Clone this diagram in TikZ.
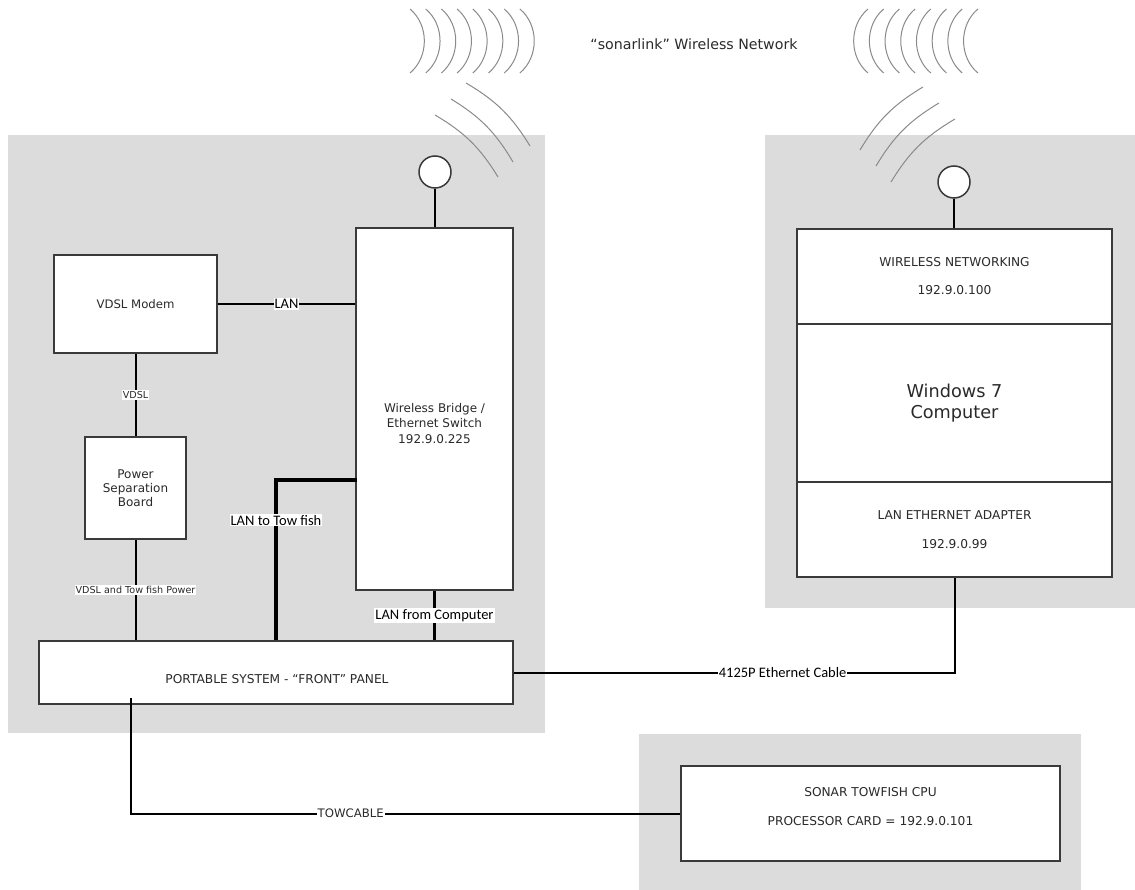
\documentclass[tikz,border=0pt]{standalone}
\usepackage{fontspec}
\setmainfont{DejaVu Sans}
\newfontfamily\calib{Carlito}
\definecolor{panelgrey}{HTML}{DCDCDC}
\definecolor{boxline}{HTML}{3A3A3A}
\definecolor{wavegrey}{HTML}{8A8A8A}
\definecolor{txt}{HTML}{2A2A2A}
\tikzset{
  box/.style={draw=boxline, line width=1.3pt, fill=white, inner sep=0pt, text=txt, align=center},
  boxtext/.style={text=txt, align=center, inner sep=0pt},
  wire/.style={draw=black, line width=2pt},
  thickwire/.style={draw=black, line width=3.6pt},
  wave/.style={draw=wavegrey, line width=1pt},
  lbl/.style={fill=white, inner sep=1pt, text=black, font=\calib\fontsize{14.5}{17}\selectfont},
  smalllbl/.style={fill=white, inner sep=1pt, text=txt, font=\fontsize{9.6}{11}\selectfont},
  cablelbl/.style={fill=white, inner sep=1pt, text=txt, font=\fontsize{11.7}{13}\selectfont},
  ant/.style={circle, draw=boxline, line width=1.5pt, fill=white, minimum size=32pt, inner sep=0pt},
}
\begin{document}
\begin{tikzpicture}[x=1pt,y=-1pt]
\useasboundingbox (0,0) rectangle (1135,890);
% background panels
\fill[panelgrey] (8,135) rectangle (545,733);
\fill[panelgrey] (765,135) rectangle (1135,608);
\fill[panelgrey] (639,734) rectangle (1081,890);

% title
\node[text=txt, font=\fontsize{14.2}{17}\selectfont] (title) at (694,44) {“sonarlink” Wireless Network};

% radio waves
\foreach \k in {0,...,7} {
  \draw[wave] ({410+15.7*\k},9) to[bend left=50] ({410+15.7*\k},73);
  \draw[wave] ({868+15.7*\k},9) to[bend right=50] ({868+15.7*\k},73);
}
\draw[wave] (435,115) to[bend left=14] (498,177);
\draw[wave] (451,99) to[bend left=14] (513,162);
\draw[wave] (466,83) to[bend left=14] (530,146);
\draw[wave] (860,150) to[bend left=14] (923,87);
\draw[wave] (876,166) to[bend left=14] (939,103);
\draw[wave] (891,182) to[bend left=14] (955,119);

% antennas
\node[ant] (ant1) at (435,172) {};
\node[ant] (ant2) at (954,182) {};

% left system
\node[box, minimum width=157pt, minimum height=362pt] (bridge) at (434.5,409) {};
\node[boxtext, font=\fontsize{12}{15.5}\selectfont] (bridgetxt) at (434.5,423.5) {Wireless Bridge /\\Ethernet Switch\\192.9.0.225};
\node[box, minimum width=163pt, minimum height=98pt, font=\fontsize{11.7}{14}\selectfont] (modem) at (135.5,304) {VDSL Modem};
\node[box, minimum width=101pt, minimum height=102pt, font=\fontsize{12}{14}\selectfont] (psb) at (135.5,488) {Power\\Separation\\Board};
\node[box, minimum width=474pt, minimum height=63pt] (front) at (276,672.5) {};
\node[boxtext, font=\fontsize{12.2}{14}\selectfont] (fronttxt) at (277,679) {PORTABLE SYSTEM - “FRONT” PANEL};

% computer
\node[box, minimum width=315pt, minimum height=95pt, font=\fontsize{12.2}{28}\selectfont] (wn) at (954.5,276.5) {WIRELESS NETWORKING\\192.9.0.100};
\node[box, minimum width=315pt, minimum height=158pt, font=\fontsize{17.7}{21}\selectfont] (win) at (954.5,403) {Windows 7\\Computer};
\node[box, minimum width=315pt, minimum height=95pt, font=\fontsize{12.2}{29}\selectfont] (lanad) at (954.5,529.5) {LAN ETHERNET ADAPTER\\192.9.0.99};

% towfish
\node[box, minimum width=379pt, minimum height=95pt] (sonar) at (870.5,813.5) {};
\node[boxtext, font=\fontsize{12.2}{29}\selectfont] (sonartxt) at (870.5,806.5) {SONAR TOWFISH CPU\\PROCESSOR CARD = 192.9.0.101};

% connectors
\draw[wire] (ant1.south) -- (ant1.south |- bridge.north);
\draw[wire] (ant2.south) -- (ant2.south |- wn.north);
\draw[wire] (modem.east) -- node[lbl]{LAN} (modem.east -| bridge.west);
\draw[wire] (modem.south) -- node[smalllbl]{VDSL} (psb.north);
\draw[wire] (psb.south) -- node[smalllbl]{VDSL and Tow fish Power} (psb.south |- front.north);
\coordinate (tf) at (276,480);
\draw[thickwire] ([xshift=2pt]tf -| bridge.west) -- (tf) -- node[lbl, pos=0.25]{LAN to Tow fish} (tf |- front.north);
\draw[thickwire] (bridge.south) -- node[lbl]{LAN from Computer} (bridge.south |- front.north);
\draw[wire] (front.east) -- node[lbl, pos=0.61]{4125P Ethernet Cable} (lanad.south |- front.east) -- (lanad.south);
\coordinate (tc) at (131,698);
\draw[wire] (tc) -- (tc |- sonar.west) -- node[cablelbl, pos=0.4]{TOWCABLE} (sonar.west);
\end{tikzpicture}
\end{document}
